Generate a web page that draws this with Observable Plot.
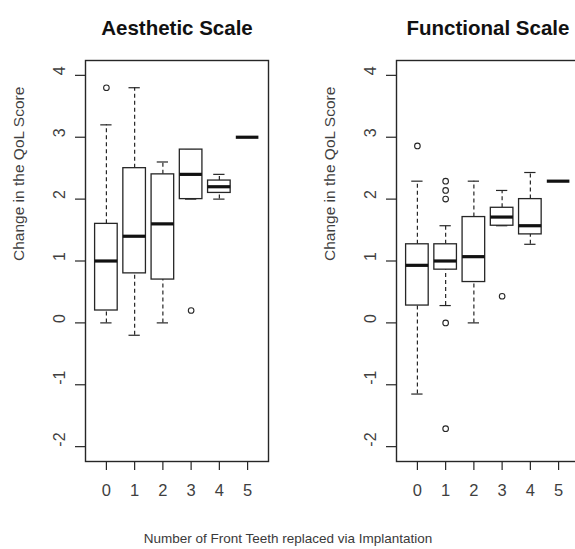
<!DOCTYPE html>
<html>
<head>
<meta charset="utf-8">
<script src="https://cdn.jsdelivr.net/npm/d3@7"></script>
<script src="https://cdn.jsdelivr.net/npm/@observablehq/plot@0.6"></script>
<style>
  html, body { margin: 0; padding: 0; background: #fff; overflow: hidden; }
  #wrap { position: relative; width: 575px; height: 549px; overflow: hidden; font-family: "Liberation Sans", Arial, sans-serif; }
  #left { position: absolute; left: 0; top: 0; width: 290px; }
  #right { position: absolute; left: 290px; top: 0; width: 310px; }
  #wrap svg { max-width: none !important; display: block; }
  #caption { position: absolute; left: 0; width: 576px; top: 531px; text-align: center; font-size: 13.5px; color: #3a3a3a; white-space: nowrap; }
</style>
</head>
<body>
<div id="wrap">
  <div id="left"></div>
  <div id="right"></div>
  <div id="caption">Number of Front Teeth replaced via Implantation</div>
</div>
<script>
// ---- data ----
const groups = [0, 1, 2, 3, 4, 5];
const xTicks = [0, 1, 2, 3, 4, 5];
const yTicks = [-2, -1, 0, 1, 2, 3, 4];
const yLabel = "Change in the QoL Score";

// Aesthetic Scale
const aesLowerWhisker = [0.0, -0.2, 0.0, 2.0, 2.0, 3.0];
const aesQ1           = [0.2, 0.8, 0.7, 2.0, 2.1, 3.0];
const aesMedian       = [1.0, 1.4, 1.6, 2.4, 2.2, 3.0];
const aesQ3           = [1.6, 2.5, 2.4, 2.8, 2.3, 3.0];
const aesUpperWhisker = [3.2, 3.8, 2.6, 2.8, 2.4, 3.0];
const aesOutlierGroup = [0, 3];
const aesOutlierValue = [3.8, 0.2];

// Functional Scale
const funLowerWhisker = [-1.15, 0.28, 0.0, 1.57, 1.27, 2.29];
const funQ1           = [0.28, 0.86, 0.66, 1.57, 1.43, 2.29];
const funMedian       = [0.93, 1.0, 1.07, 1.71, 1.57, 2.29];
const funQ3           = [1.27, 1.27, 1.71, 1.86, 2.0, 2.29];
const funUpperWhisker = [2.29, 1.57, 2.29, 2.14, 2.43, 2.29];
const funOutlierGroup = [0, 1, 1, 1, 1, 1, 3];
const funOutlierValue = [2.86, 2.29, 2.14, 2.0, 0.0, -1.71, 0.43];

const INK = "#262626";
const TXT = "#3f3f3f";
const HALF = 0.4;    // half box width (x units)
const STAPLE = 0.2;  // half staple width

function panel({title, lo, q1, med, q3, hi, og, ov, width, marginLeft, marginRight}) {
  const stats = groups.map((g, i) => ({g, lo: lo[i], q1: q1[i], med: med[i], q3: q3[i], hi: hi[i]}));
  const outliers = og.map((g, i) => ({g, v: ov[i]}));
  return Plot.plot({
    width, height: 549,
    marginLeft, marginRight, marginTop: 60, marginBottom: 88,
    style: {fontFamily: '"Liberation Sans", Arial, sans-serif', background: "white", overflow: "visible", maxWidth: "none"},
    x: {domain: [-0.74, 5.74]},
    y: {domain: [-2.24, 4.24]},
    marks: [
      // whiskers
      Plot.ruleX(stats, {x: "g", y1: "q3", y2: "hi", stroke: INK, strokeWidth: 1.2, strokeDasharray: "4,3"}),
      Plot.ruleX(stats, {x: "g", y1: "lo", y2: "q1", stroke: INK, strokeWidth: 1.2, strokeDasharray: "4,3"}),
      // staples
      Plot.ruleY(stats, {y: "hi", x1: d => d.g - STAPLE, x2: d => d.g + STAPLE, stroke: INK, strokeWidth: 1.2}),
      Plot.ruleY(stats, {y: "lo", x1: d => d.g - STAPLE, x2: d => d.g + STAPLE, stroke: INK, strokeWidth: 1.2}),
      // boxes
      Plot.rect(stats, {x1: d => d.g - HALF, x2: d => d.g + HALF, y1: "q1", y2: "q3", fill: "white", stroke: INK, strokeWidth: 1.3}),
      // medians
      Plot.ruleY(stats, {y: "med", x1: d => d.g - HALF, x2: d => d.g + HALF, stroke: "#111", strokeWidth: 3.2}),
      // outliers
      Plot.dot(outliers, {x: "g", y: "v", r: 2.8, stroke: INK, strokeWidth: 1.1, fill: "none"}),
      // frame
      Plot.frame({stroke: INK, strokeWidth: 1.4}),
      // axes ticks
      Plot.axisX({ticks: xTicks, tickSize: 9, tickFormat: () => "", label: null, stroke: INK, strokeWidth: 1.2}),
      Plot.axisY({ticks: yTicks, tickSize: 10, tickFormat: () => "", label: null, stroke: INK, strokeWidth: 1.2}),
      // tick labels
      Plot.text(xTicks, {x: d => d, frameAnchor: "bottom", dy: 34, text: d => String(d), fontSize: 16.5, fill: TXT}),
      Plot.text(yTicks, {y: d => d, frameAnchor: "left", dx: -26, rotate: -90, text: d => String(d), fontSize: 16, fill: TXT}),
      // y label
      Plot.text([yLabel], {frameAnchor: "left", dx: -66.5, rotate: -90, text: d => d, fontSize: 15.5, fill: TXT}),
      // title
      Plot.text([title], {frameAnchor: "top", dy: -40, text: d => d, fontSize: 20.5, fontWeight: "bold", fill: "#111"})
    ]
  });
}

document.getElementById("left").appendChild(panel({
  title: "Aesthetic Scale",
  lo: aesLowerWhisker, q1: aesQ1, med: aesMedian, q3: aesQ3, hi: aesUpperWhisker,
  og: aesOutlierGroup, ov: aesOutlierValue,
  width: 290, marginLeft: 85, marginRight: 22
}));
document.getElementById("right").appendChild(panel({
  title: "Functional Scale",
  lo: funLowerWhisker, q1: funQ1, med: funMedian, q3: funQ3, hi: funUpperWhisker,
  og: funOutlierGroup, ov: funOutlierValue,
  width: 310, marginLeft: 106, marginRight: 21
}));
</script>
</body>
</html>
